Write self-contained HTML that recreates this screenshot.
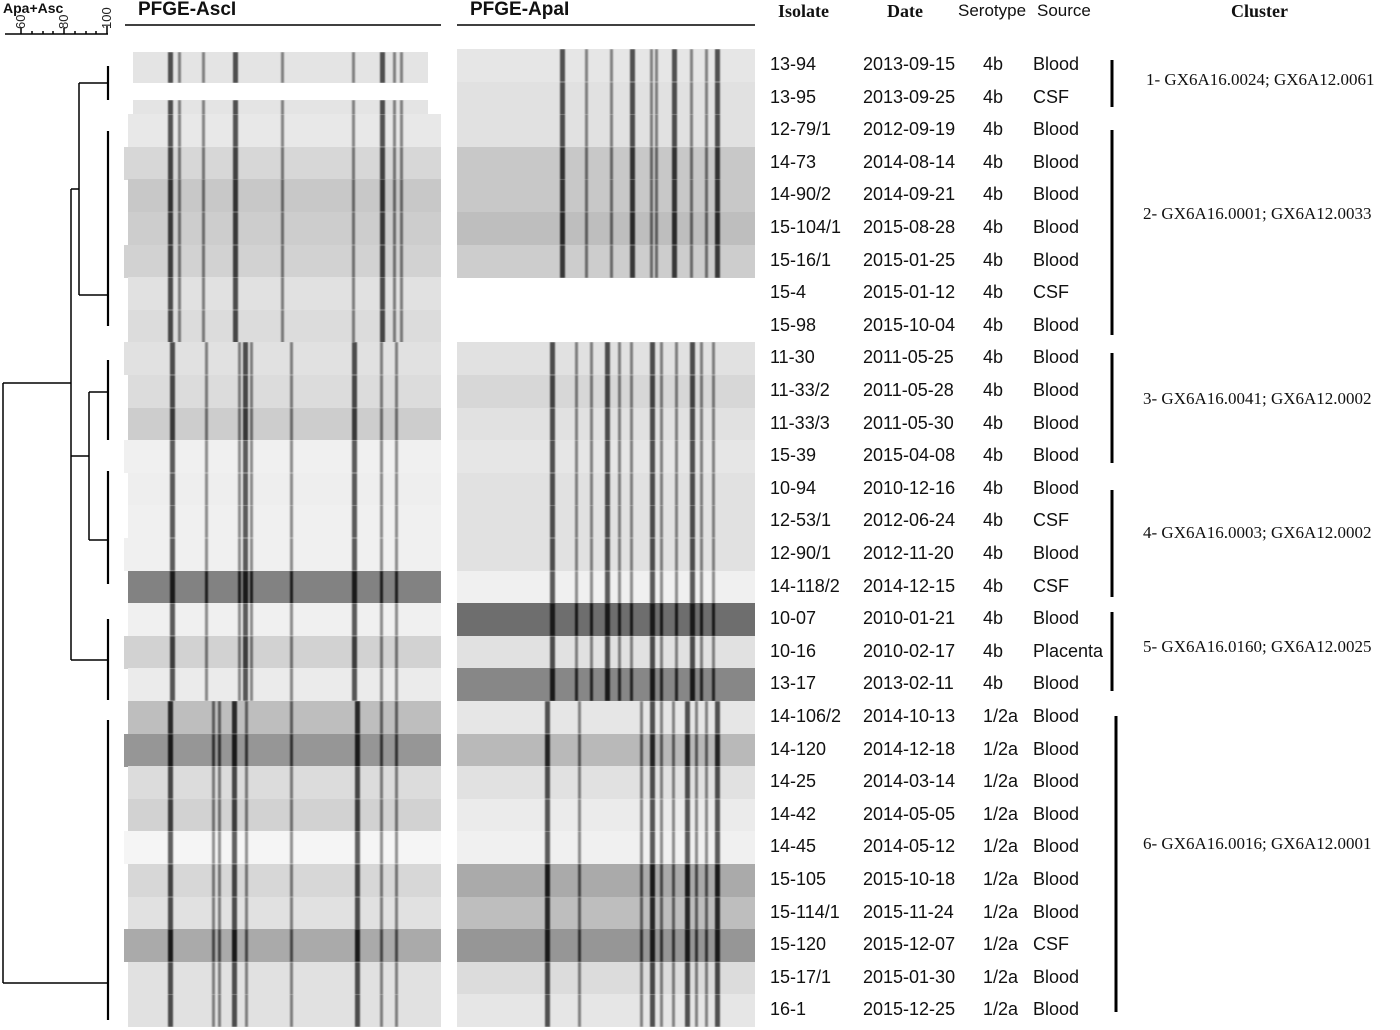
<!DOCTYPE html>
<html><head><meta charset="utf-8"><style>
body{margin:0;background:#fff;width:1400px;height:1030px;overflow:hidden;position:relative;font-family:"Liberation Sans",sans-serif}
.t{position:absolute;white-space:nowrap;color:#111}
.strip{position:absolute;overflow:hidden}
.band{position:absolute;top:0;bottom:0;filter:blur(0.9px)}
</style></head><body>
<svg id="dend" width="1400" height="1030" style="position:absolute;left:0;top:0">
<g stroke="#000" stroke-width="1.5" fill="none">
<line x1="5" y1="34" x2="108" y2="34"/>
<line x1="21" y1="28" x2="21" y2="34"/><line x1="64" y1="28" x2="64" y2="34"/><line x1="107" y1="26" x2="107" y2="34"/>
<line x1="32" y1="31" x2="32" y2="34"/><line x1="43" y1="31" x2="43" y2="34"/><line x1="53" y1="31" x2="53" y2="34"/>
<line x1="75" y1="31" x2="75" y2="34"/><line x1="86" y1="31" x2="86" y2="34"/><line x1="96" y1="31" x2="96" y2="34"/>
<g stroke-width="2.2">
<line x1="108" y1="66" x2="108" y2="100"/>
<line x1="108" y1="131" x2="108" y2="326"/>
<line x1="108" y1="360" x2="108" y2="440"/>
<line x1="108" y1="471" x2="108" y2="584"/>
<line x1="108" y1="619" x2="108" y2="700"/>
<line x1="108" y1="720" x2="108" y2="1020"/>
</g>
<line x1="79" y1="83" x2="108" y2="83"/><line x1="79" y1="83" x2="79" y2="295"/><line x1="79" y1="295" x2="108" y2="295"/>
<line x1="71" y1="189" x2="79" y2="189"/><line x1="71" y1="189" x2="71" y2="660"/><line x1="71" y1="660" x2="108" y2="660"/>
<line x1="89" y1="392" x2="108" y2="392"/><line x1="89" y1="392" x2="89" y2="540"/><line x1="89" y1="540" x2="108" y2="540"/>
<line x1="71" y1="456" x2="89" y2="456"/>
<line x1="3" y1="383" x2="71" y2="383"/><line x1="3" y1="383" x2="3" y2="983"/><line x1="3" y1="983" x2="108" y2="983"/>
<line x1="125" y1="25" x2="441" y2="25" stroke-width="1.5"/>
<line x1="457" y1="25" x2="755" y2="25" stroke-width="1.5"/>
<g stroke-width="3">
<line x1="1112" y1="60" x2="1112" y2="107"/>
<line x1="1112" y1="130" x2="1112" y2="335"/>
<line x1="1112" y1="353" x2="1112" y2="463"/>
<line x1="1112" y1="490" x2="1112" y2="597"/>
<line x1="1112" y1="612" x2="1112" y2="691"/>
<line x1="1116" y1="716" x2="1116" y2="1012"/>
</g></g>
<g font-family="Liberation Sans" font-size="13" fill="#222">
<text transform="translate(25,29) rotate(-90)">60</text>
<text transform="translate(68,29) rotate(-90)">80</text>
<text transform="translate(111,29) rotate(-90)">100</text>
</g>
</svg>
<div class="t" style="left:3px;top:0px;font-weight:bold;font-size:14px">Apa+Asc</div>
<div class="t" style="left:138px;top:-1px;font-weight:bold;font-size:19px">PFGE-AscI</div>
<div class="t" style="left:470px;top:-1px;font-weight:bold;font-size:19px">PFGE-ApaI</div>
<div class="t" style="left:778px;top:1px;font-family:'Liberation Serif',serif;font-weight:bold;font-size:18px">Isolate</div>
<div class="t" style="left:887px;top:1px;font-family:'Liberation Serif',serif;font-weight:bold;font-size:18px">Date</div>
<div class="t" style="left:958px;top:1px;font-size:17px">Serotype</div>
<div class="t" style="left:1037px;top:1px;font-size:17px">Source</div>
<div class="t" style="left:1231px;top:1px;font-family:'Liberation Serif',serif;font-weight:bold;font-size:18px">Cluster</div>
<div id="rows"></div>
<script>
const isolates=["13-94","13-95","12-79/1","14-73","14-90/2","15-104/1","15-16/1","15-4","15-98","11-30","11-33/2","11-33/3","15-39","10-94","12-53/1","12-90/1","14-118/2","10-07","10-16","13-17","14-106/2","14-120","14-25","14-42","14-45","15-105","15-114/1","15-120","15-17/1","16-1"];
const dates=["2013-09-15","2013-09-25","2012-09-19","2014-08-14","2014-09-21","2015-08-28","2015-01-25","2015-01-12","2015-10-04","2011-05-25","2011-05-28","2011-05-30","2015-04-08","2010-12-16","2012-06-24","2012-11-20","2014-12-15","2010-01-21","2010-02-17","2013-02-11","2014-10-13","2014-12-18","2014-03-14","2014-05-05","2014-05-12","2015-10-18","2015-11-24","2015-12-07","2015-01-30","2015-12-25"];
const serotypes=["4b","4b","4b","4b","4b","4b","4b","4b","4b","4b","4b","4b","4b","4b","4b","4b","4b","4b","4b","4b","1/2a","1/2a","1/2a","1/2a","1/2a","1/2a","1/2a","1/2a","1/2a","1/2a"];
const sources=["Blood","CSF","Blood","Blood","Blood","Blood","Blood","CSF","Blood","Blood","Blood","Blood","Blood","Blood","CSF","Blood","CSF","Blood","Placenta","Blood","Blood","Blood","Blood","Blood","Blood","Blood","Blood","CSF","Blood","Blood"];
const clusterLabels=["1- GX6A16.0024; GX6A12.0061","2- GX6A16.0001; GX6A12.0033","3- GX6A16.0041; GX6A12.0002","4- GX6A16.0003; GX6A12.0002","5- GX6A16.0160; GX6A12.0025","6- GX6A16.0016; GX6A12.0001"];
const clusterY=[81,215,400,534,648,845];
const ascGray=[228,228,232,215,200,205,210,225,220,225,220,205,240,238,240,240,130,240,210,235,190,150,220,210,245,215,225,170,225,225];
const apaGray=[230,225,225,200,200,190,205,0,0,225,215,225,230,225,225,225,240,110,225,135,230,185,225,235,240,170,190,150,220,230];
const ascBands=[[168,178,202,233,281,352,380,393,400],[170,205,238,243,250,290,352,380,395],[168,212,218,232,245,290,355,380,395]];
const apaBands=[[560,585,610,630,650,655,672,690,705,715],[550,575,590,605,618,630,650,660,675,690,700,712],[545,578,640,650,660,672,685,695,705,715]];
const root=document.getElementById('rows');
function rowY(i){return 65+i*32.6;}
function pat(i){return i<9?0:(i<20?1:2);}
function strip(x1,x2,y,h,g,bands,name){
  const d=document.createElement('div');d.className='strip';
  
  
  d.style.left=x1+'px';d.style.top=y+'px';d.style.width=(x2-x1)+'px';d.style.height=h+'px';
  d.style.background='rgb('+g+','+g+','+g+')';
  bands.forEach((b,k)=>{const s=document.createElement('div');s.className='band';
    const c=Math.max(25,g-(k%3==0?150:100));
    s.style.left=(b-x1)+'px';s.style.width=(k%3==0?5:3)+'px';s.style.background='rgb('+c+','+c+','+c+')';d.appendChild(s);});
  root.appendChild(d);
}
for(let i=0;i<isolates.length;i++){
  const ax1=i<2?133:(i%3==0?124:128), ax2=i<2?428:441;
  let ay=rowY(i)-16, ah=33;
  if(i==0){ay=52;ah=31;} if(i==1){ay=100;ah=31;}
  strip(ax1,ax2,ay,ah,ascGray[i],ascBands[pat(i)],'ascI-lane');
  if(apaGray[i]) strip(457,755,rowY(i)-16,33,apaGray[i],apaBands[pat(i)],'apaI-lane');
  const y=rowY(i)-11;
  const cols=[[770,isolates[i],'isolate-id'],[863,dates[i],'isolate-date'],[983,serotypes[i],'isolate-serotype'],[1033,sources[i],'isolate-source']];
  cols.forEach(c=>{const t=document.createElement('div');t.className='t';
    
    
    t.style.left=c[0]+'px';t.style.top=y+'px';t.style.fontSize='18px';t.textContent=c[1];root.appendChild(t);});
}
clusterLabels.forEach((l,k)=>{const t=document.createElement('div');t.className='t';
  
  
  t.style.left=(k==0?1146:1143)+'px';t.style.top=(clusterY[k]-11)+'px';t.style.fontSize='17px';t.style.fontFamily="'Liberation Serif',serif";t.textContent=l;root.appendChild(t);});
</script>
</body></html>
